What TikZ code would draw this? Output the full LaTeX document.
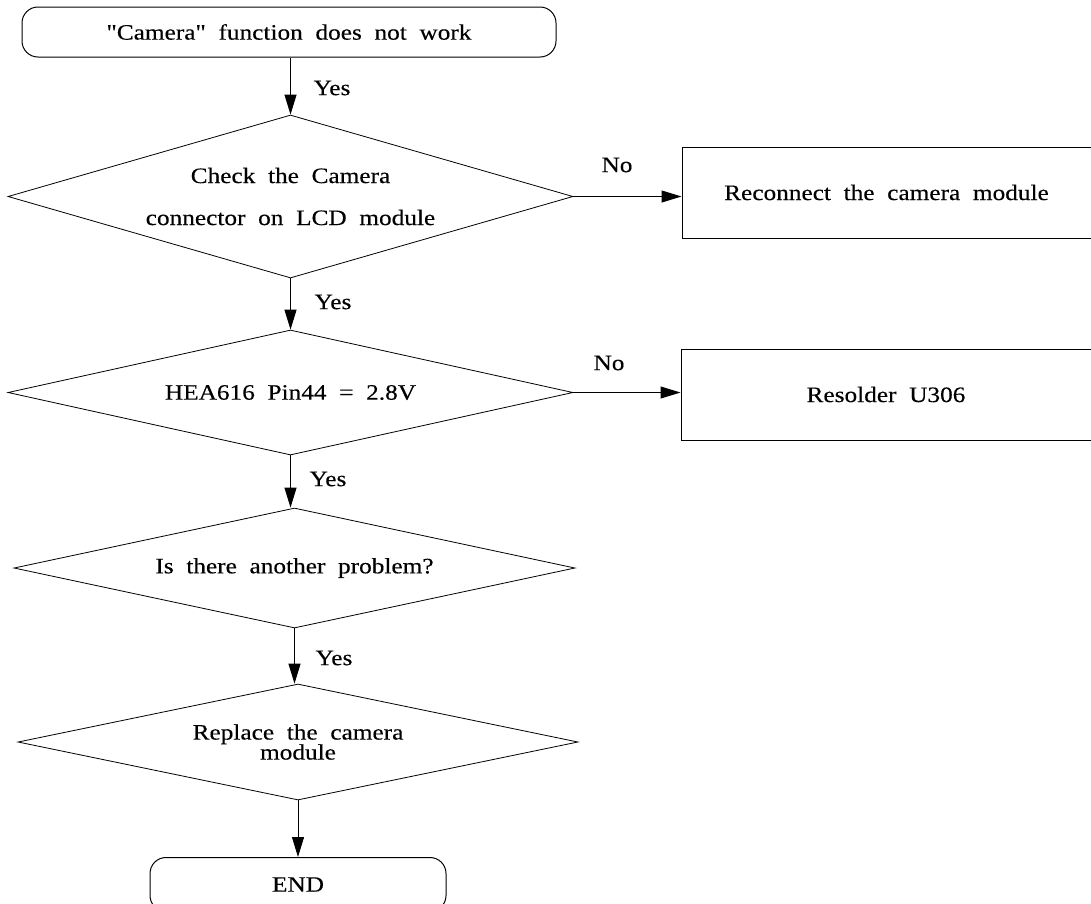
\documentclass[tikz,border=0pt]{standalone}
\usepackage{fontspec}
\setmainfont{Liberation Serif}[Ligatures=TeXOff,FakeStretch=1.15,WordSpace=2,FakeBold=0.3]
\usetikzlibrary{shapes.geometric,arrows.meta}
\begin{document}
\begin{tikzpicture}[x=1pt,y=-1pt,
  every node/.style={font=\fontsize{22}{25}\selectfont},
  dia/.style={draw,diamond,inner sep=0pt,line width=0.8pt,align=center},
  boxr/.style={draw,rectangle,inner sep=0pt,line width=1pt},
  term/.style={draw,rectangle,rounded corners=16pt,inner sep=0pt,line width=1pt},
  arr/.style={line width=1pt,-{Triangle[length=20pt,width=12pt]}},
  lbl/.style={inner sep=0pt}]
\useasboundingbox (0,0) rectangle (1091,903);
\node[term,minimum width=534pt,minimum height=50pt] (start) at (289,32) {"Camera" function does not work};
\node[dia,shape aspect=3.466,minimum width=565pt,minimum height=163pt] (d1) at (290.5,196.5) {Check the Camera\\[17pt]connector on LCD module};
\node[boxr,minimum width=409pt,minimum height=91pt] (b1) at (886.5,192.5) {Reconnect the camera module};
\node[dia,shape aspect=4.52,minimum width=565pt,minimum height=125pt] (d2) at (290.5,392.5) {HEA616 Pin44 = 2.8V};
\node[boxr,minimum width=410pt,minimum height=91pt] (b2) at (886,394.5) {Resolder U306};
\node[dia,shape aspect=4.675,minimum width=561pt,minimum height=120pt] (d3) at (294.5,568) {Is there another problem?};
\node[dia,shape aspect=4.83,minimum width=560pt,minimum height=116pt] (d4) at (298,742) {Replace the camera\\[-5pt]module};
\node[term,minimum width=296pt,minimum height=54pt,anchor=north] (end) at (298,857) {\raisebox{-2pt}{END}};
\draw[arr] (start.south -| d1.north) -- (d1.north);
\draw[arr] (d1.south) -- (d2.north -| d1.south);
\draw[arr] (d2.south) -- (d3.north -| d2.south);
\draw[arr] (d3.south) -- (d4.north -| d3.south);
\draw[arr] (d4.south) -- (end.north -| d4.south);
\draw[arr] (d1.east) -- (d1.east -| b1.west);
\draw[arr] (d2.east) -- (d2.east -| b2.west);
\node[lbl] (y1) at (332,88) {Yes};
\node[lbl] (y2) at (333,302) {Yes};
\node[lbl] (y3) at (328,479) {Yes};
\node[lbl] (y4) at (334,658) {Yes};
\node[lbl] (n1) at (617,165) {No};
\node[lbl] (n2) at (609,363) {No};
\end{tikzpicture}
\end{document}
